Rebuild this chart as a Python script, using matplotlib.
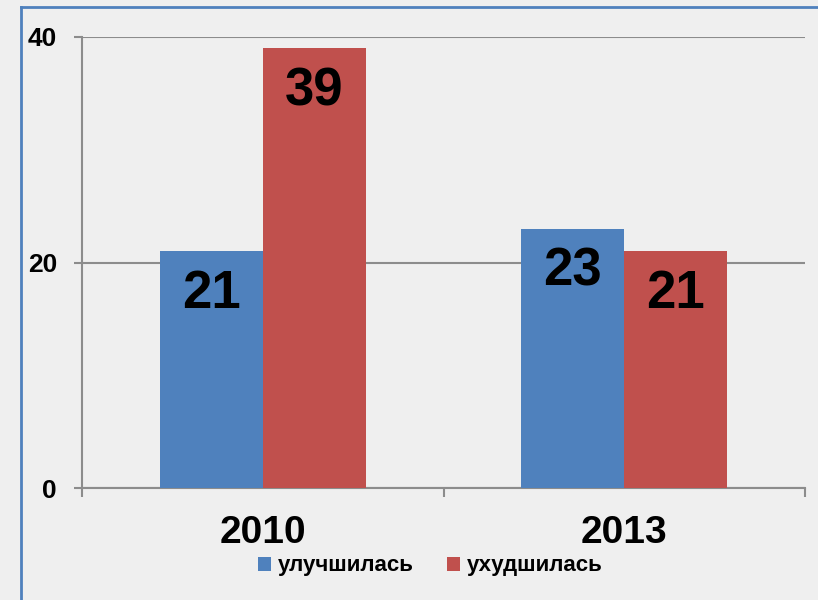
import matplotlib.pyplot as plt
from matplotlib.lines import Line2D

plt.rcParams['font.family'] = ['Liberation Sans', 'DejaVu Sans']
plt.rcParams['font.weight'] = 'bold'

years = ['2010', '2013']
series = ['улучшилась', 'ухудшилась']
improved = [21, 23]
worsened = [39, 21]
colors = ['#4f81bd', '#c0504d']
yticks = [0, 20, 40]

fig = plt.figure(figsize=(8.18, 6), dpi=100)
fig.patch.set_facecolor('#efefef')

# blue frame: only top and left edges are visible
fx, fy = 21 / 818, 1 - 7 / 600
fig.lines.append(Line2D([fx, fx], [0, fy], transform=fig.transFigure, color='#4f81bd', linewidth=2))
fig.lines.append(Line2D([fx, 1], [fy, fy], transform=fig.transFigure, color='#4f81bd', linewidth=2))

ax = fig.add_axes([82 / 818, 1 - 488 / 600, 723 / 818, 451 / 600])
ax.set_facecolor('none')

w = 0.285
x = range(len(years))
b1 = ax.bar([i - w / 2 for i in x], improved, w, color=colors[0], label=series[0], zorder=3)
b2 = ax.bar([i + w / 2 for i in x], worsened, w, color=colors[1], label=series[1], zorder=3)

for bars, vals in ((b1, improved), (b2, worsened)):
    for b, v in zip(bars, vals):
        ax.text(b.get_x() + b.get_width() / 2, v - 3.8, str(v), ha='center', va='center',
                fontsize=38, fontweight='bold', zorder=4)

ax.set_xlim(-0.5, 1.5)
ax.set_ylim(0, 40)
ax.set_yticks(yticks)
ax.set_yticklabels([str(t) for t in yticks], fontsize=19, fontweight='bold')
ax.yaxis.grid(True, color='#8c8c8c', linewidth=1.5, zorder=0)
ax.tick_params(axis='y', length=6, width=1.5, color='#8c8c8c', pad=12)

ax.set_xticks([-0.5, 0.5, 1.5])
ax.set_xticklabels([])
ax.tick_params(axis='x', length=6.5, width=1.5, color='#8c8c8c')
for i, yr in enumerate(years):
    ax.text(i, -0.1, yr, transform=ax.get_xaxis_transform(), ha='center', va='center',
            fontsize=28, fontweight='bold')

for s in ['top', 'right']:
    ax.spines[s].set_visible(False)
for s in ['left', 'bottom']:
    ax.spines[s].set_color('#8c8c8c')
    ax.spines[s].set_linewidth(1.5)

fig.legend(handles=[b1, b2], loc='center', bbox_to_anchor=(430 / 818, 1 - 566 / 600),
           ncol=2, frameon=False, prop={'size': 16, 'weight': 'bold'},
           handlelength=0.6, handleheight=0.6, handletextpad=0.3, columnspacing=1.5)

fig.savefig('out.png', dpi=100, facecolor=fig.get_facecolor())
